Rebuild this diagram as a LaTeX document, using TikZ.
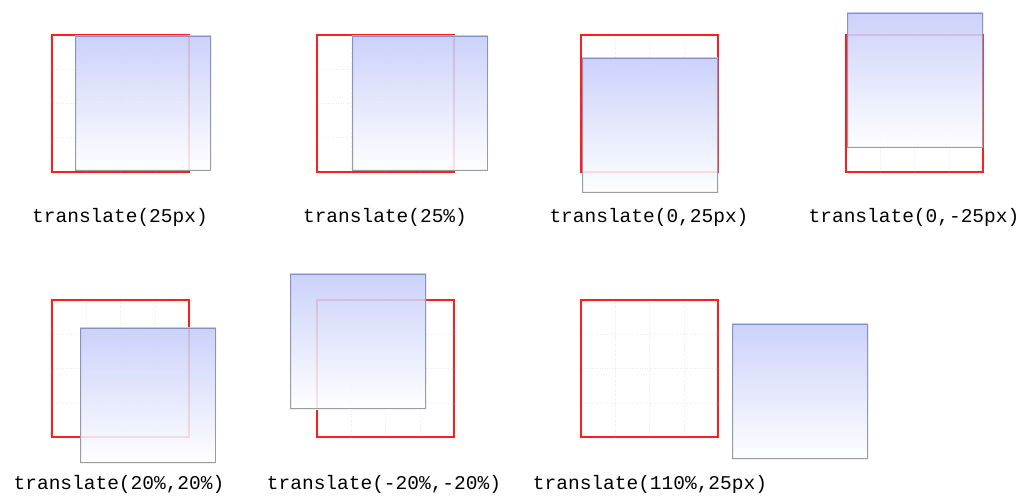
\documentclass[tikz,border=0pt]{standalone}
\usepackage{fontspec}
\setmonofont{Liberation Mono}
\definecolor{rline}{RGB}{255,30,30}
\definecolor{btop}{RGB}{196,204,250}
\definecolor{bbot}{RGB}{255,255,255}
\definecolor{frtop}{RGB}{136,144,196}
\definecolor{frbot}{RGB}{156,156,156}
\definecolor{gridc}{RGB}{236,236,236}
\tikzset{
  redbox/.style={draw=rline, line width=1.1pt},
  gridline/.style={draw=gridc, dotted, line width=0.5pt},
  bluebox/.style={top color=btop, bottom color=bbot, fill opacity=0.87},
  frame/.style={top color=frtop, bottom color=frbot, even odd rule},
  lbl/.style={font=\ttfamily\fontsize{19.5}{22}\selectfont, text=black, inner sep=0pt, anchor=base}
}
% #1 red x, #2 red y, #3 blue x, #4 blue y, #5 label x, #6 label y, #7 text, #8 name
\newcommand\xpanel[8]{%
  \draw[redbox] (#1,#2) rectangle ++(137,137);
  \foreach \k in {0.25,0.5,0.75}{
    \draw[gridline] ($(#1,#2)+(137*\k,1)$) -- ++(0,135);
    \draw[gridline] ($(#1,#2)+(1,137*\k)$) -- ++(135,0);
  }
  \shade[bluebox] (#3,#4) rectangle ++(136,135);
  \shade[frame] (#3,#4) rectangle ++(136,135) ($(#3,#4)+(1,1)$) rectangle ++(134,133);
  \node[lbl] (#8) at (#5,#6) {#7};
}
\usetikzlibrary{calc}
\begin{document}
\begin{tikzpicture}[x=1pt,y=-1pt]
\useasboundingbox[fill=white] (0,0) rectangle (1030,502);
\xpanel{52}{35}{75}{36}{120}{223}{translate(25px)}{l1}
\xpanel{317}{35}{352}{36}{385}{223}{translate(25\%)}{l2}
\xpanel{581}{35}{582}{58}{649}{223}{translate(0,25px)}{l3}
\xpanel{846}{35}{847}{13}{914}{223}{translate(0,-25px)}{l4}
\xpanel{52}{300}{80}{328}{119}{489}{translate(20\%,20\%)}{l5}
\xpanel{317}{300}{290}{274}{384}{489}{translate(-20\%,-20\%)}{l6}
\xpanel{581}{300}{732}{324}{650}{489}{translate(110\%,25px)}{l7}
\end{tikzpicture}
\end{document}
